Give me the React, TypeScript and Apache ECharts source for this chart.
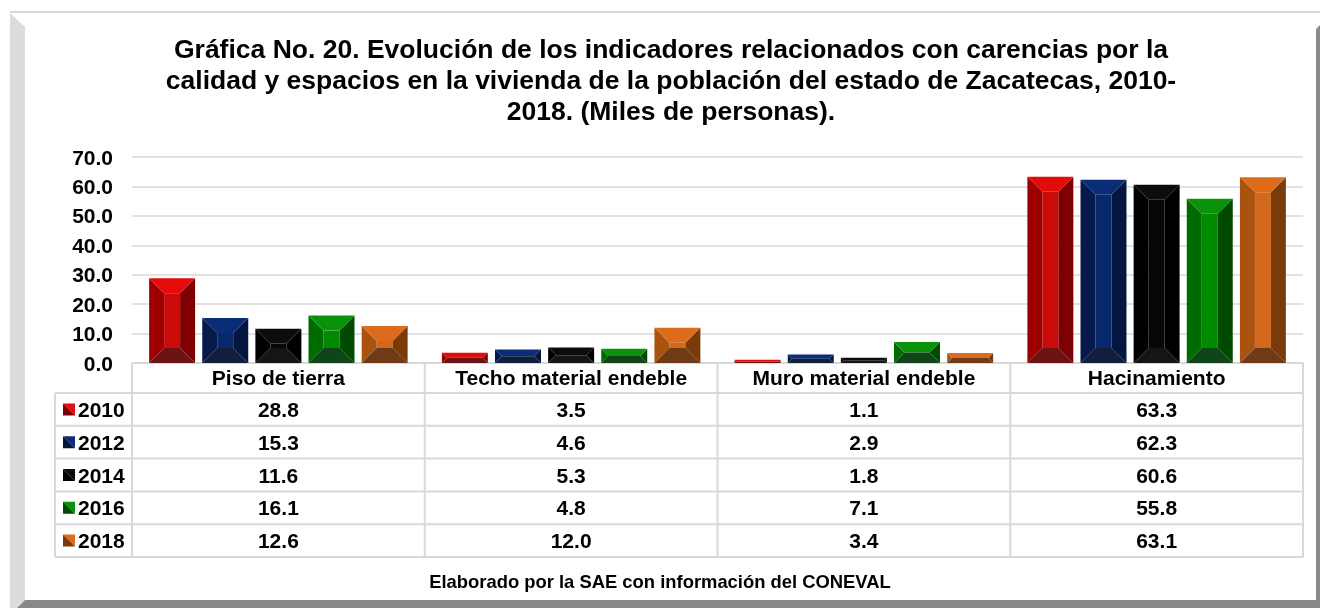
import React, { useEffect, useRef } from "react";
import * as echarts from "echarts";

// ---------- data ----------
const categories = ["Piso de tierra", "Techo material endeble", "Muro material endeble", "Hacinamiento"];
const years = ["2010", "2012", "2014", "2016", "2018"];
const v2010 = [28.8, 3.5, 1.1, 63.3];
const v2012 = [15.3, 4.6, 2.9, 62.3];
const v2014 = [11.6, 5.3, 1.8, 60.6];
const v2016 = [16.1, 4.8, 7.1, 55.8];
const v2018 = [12.6, 12.0, 3.4, 63.1];
const seriesValues = [v2010, v2012, v2014, v2016, v2018];
const yMin = 0;
const yMax = 70;
const yInterval = 10;
const titleLines = [
  "Gráfica No. 20. Evolución de los indicadores relacionados con carencias por la",
  "calidad y espacios en la vivienda de la población del estado de Zacatecas, 2010-",
  "2018. (Miles de personas).",
];
const footerText = "Elaborado por la SAE con información del CONEVAL";

// ---------- style ----------
const FONT = "'Liberation Sans', Arial, sans-serif";
const W = 1320;
const H = 608;
const GRID_LEFT = 132;
const GRID_RIGHT_X = 1303;
const GRID_TOP = 157;
const GRID_BOTTOM_Y = 363;
const HEADER_BOTTOM = 393;
const ROW_H = 32.8;
const LEGEND_LEFT = 55;
const LINE_COLOR = "#d9d9d9";

const palette = [
  { top: "#e40b0b", left: "#9c0000", center: "#cc0a0a", right: "#7e0000", bottom: "#6c1313" },
  { top: "#0b2c78", left: "#04194c", center: "#07296b", right: "#021640", bottom: "#111e3c" },
  { top: "#0c0c0c", left: "#000000", center: "#070707", right: "#000000", bottom: "#151515" },
  { top: "#0a930a", left: "#006c00", center: "#008a00", right: "#004b00", bottom: "#10451a" },
  { top: "#dc6b1b", left: "#aa530f", center: "#d3671a", right: "#7a3b0a", bottom: "#6e3b16" },
];

const BAR_RATIO = 0.157;
const GAP_RATIO = 0.0245;

function renderBar(params: any, api: any) {
  const idx = params.seriesIndex;
  const cat = api.value(0);
  const val = api.value(1);
  const base = api.coord([cat, 0]);
  const top = api.coord([cat, val]);
  const bandW = api.size([1, 0])[0];
  const barW = bandW * BAR_RATIO;
  const gap = bandW * GAP_RATIO;
  const groupW = years.length * barW + (years.length - 1) * gap;
  const x0 = base[0] - groupW / 2 + idx * (barW + gap);
  const x1 = x0 + barW;
  const yT = top[1];
  const yB = base[1];
  const h = yB - yT;
  const b = Math.min(15, h / 2, barW / 2);
  const c = palette[idx];
  const children: any[] = [];
  if (h - 2 * b > 0.01) {
    children.push({
      type: "rect",
      shape: { x: x0 + b, y: yT + b, width: barW - 2 * b, height: h - 2 * b },
      style: { fill: c.center },
    });
  }
  children.push({
    type: "polygon",
    shape: { points: [[x0, yT], [x0 + b, yT + b], [x0 + b, yB - b], [x0, yB]] },
    style: { fill: c.left },
  });
  children.push({
    type: "polygon",
    shape: { points: [[x1, yT], [x1 - b, yT + b], [x1 - b, yB - b], [x1, yB]] },
    style: { fill: c.right },
  });
  children.push({
    type: "polygon",
    shape: { points: [[x0, yT], [x1, yT], [x1 - b, yT + b], [x0 + b, yT + b]] },
    style: { fill: c.top },
  });
  children.push({
    type: "polygon",
    shape: { points: [[x0, yB], [x1, yB], [x1 - b, yB - b], [x0 + b, yB - b]] },
    style: { fill: c.bottom },
  });
  return { type: "group", children };
}

function buildGraphic() {
  const g: any[] = [];
  // frame
  g.push({ type: "rect", shape: { x: 10, y: 12, width: 1310, height: 596 }, style: { fill: "#ffffff" }, z: -10 });
  g.push({ type: "line", shape: { x1: 10, y1: 12, x2: 1320, y2: 12 }, style: { stroke: "#d9d9d9", lineWidth: 2 }, z: -9 });
  g.push({
    type: "polygon",
    shape: { points: [[10, 13], [25, 27], [25, 600], [17, 608], [10, 608]] },
    style: { fill: "#dcdcdc" },
    z: -9,
  });
  g.push({
    type: "polygon",
    shape: { points: [[17, 608], [25, 600], [1316, 600], [1320, 596], [1320, 608]] },
    style: { fill: "#888888" },
    z: -9,
  });
  g.push({
    type: "polygon",
    shape: { points: [[1316, 29], [1320, 25], [1320, 608], [1316, 600]] },
    style: { fill: "#8a8a8a" },
    z: -9,
  });

  // title
  g.push({
    type: "text",
    x: 671,
    y: 33,
    style: {
      text: titleLines.join("\n"),
      font: `bold 26.5px ${FONT}`,
      fill: "#000000",
      align: "center",
      verticalAlign: "top",
      lineHeight: 31,
    },
    z: 5,
  });

  // footer
  g.push({
    type: "text",
    x: 660,
    y: 581,
    style: {
      text: footerText,
      font: `bold 18.4px ${FONT}`,
      fill: "#000000",
      align: "center",
      verticalAlign: "middle",
    },
    z: 5,
  });

  // table lines
  const bandW = (GRID_RIGHT_X - GRID_LEFT) / categories.length;
  const tableBottom = HEADER_BOTTOM + ROW_H * years.length;
  const lineStyle = { stroke: LINE_COLOR, lineWidth: 2 };
  g.push({ type: "line", shape: { x1: GRID_LEFT, y1: GRID_BOTTOM_Y, x2: GRID_RIGHT_X, y2: GRID_BOTTOM_Y }, style: lineStyle, z: 1 });
  for (let r = 0; r <= years.length; r++) {
    const y = HEADER_BOTTOM + r * ROW_H;
    g.push({ type: "line", shape: { x1: LEGEND_LEFT, y1: y, x2: GRID_RIGHT_X, y2: y }, style: lineStyle, z: 1 });
  }
  g.push({ type: "line", shape: { x1: LEGEND_LEFT, y1: HEADER_BOTTOM, x2: LEGEND_LEFT, y2: tableBottom }, style: lineStyle, z: 1 });
  for (let c = 0; c <= categories.length; c++) {
    const x = GRID_LEFT + c * bandW;
    g.push({ type: "line", shape: { x1: x, y1: GRID_BOTTOM_Y, x2: x, y2: tableBottom }, style: lineStyle, z: 1 });
  }

  // rows
  years.forEach((yr, r) => {
    const cy = HEADER_BOTTOM + (r + 0.5) * ROW_H;
    const c = palette[r];
    const kx = 63;
    const ks = 12;
    const ky = cy - ks / 2;
    g.push({
      type: "polygon",
      shape: { points: [[kx, ky], [kx + ks, ky], [kx + ks, ky + ks]] },
      style: { fill: c.top },
      z: 3,
    });
    g.push({
      type: "polygon",
      shape: { points: [[kx, ky], [kx + ks, ky + ks], [kx, ky + ks]] },
      style: { fill: c.right },
      z: 3,
    });
    g.push({
      type: "text",
      x: 78,
      y: cy,
      style: { text: yr, font: `bold 21px ${FONT}`, fill: "#000", align: "left", verticalAlign: "middle" },
      z: 3,
    });
    seriesValues[r].forEach((v, ci) => {
      g.push({
        type: "text",
        x: GRID_LEFT + (ci + 0.5) * bandW,
        y: cy,
        style: { text: v.toFixed(1), font: `bold 21px ${FONT}`, fill: "#000", align: "center", verticalAlign: "middle" },
        z: 3,
      });
    });
  });
  return g;
}

export default function App() {
  const ref = useRef<HTMLDivElement>(null);
  useEffect(() => {
    if (!ref.current) return;
    const chart = echarts.init(ref.current, undefined, { renderer: "svg" });
    chart.setOption({
      animation: false,
      backgroundColor: "transparent",
      grid: {
        left: GRID_LEFT,
        top: GRID_TOP,
        width: GRID_RIGHT_X - GRID_LEFT,
        height: GRID_BOTTOM_Y - GRID_TOP,
        containLabel: false,
      },
      xAxis: {
        type: "category",
        data: categories,
        axisLine: { show: false },
        axisTick: { show: false },
        axisLabel: {
          interval: 0,
          margin: 4,
          color: "#000",
          fontFamily: FONT,
          fontWeight: "bold",
          fontSize: 21,
        },
        splitLine: { show: false },
      },
      yAxis: {
        type: "value",
        min: yMin,
        max: yMax,
        interval: yInterval,
        axisLine: { show: false },
        axisTick: { show: false },
        axisLabel: {
          margin: 19,
          color: "#000",
          fontFamily: FONT,
          fontWeight: "bold",
          fontSize: 21,
          formatter: (v: number) => v.toFixed(1),
        },
        splitLine: { lineStyle: { color: LINE_COLOR, width: 1.5 } },
      },
      series: years.map((yr, i) => ({
        type: "custom",
        name: yr,
        renderItem: renderBar,
        encode: { x: 0, y: 1 },
        data: seriesValues[i].map((v, ci) => [ci, v]),
        z: 4,
        silent: true,
      })),
      graphic: buildGraphic(),
    });
    return () => chart.dispose();
  }, []);
  return <div ref={ref} style={{ position: "fixed", left: 0, top: 0, width: W, height: H }} />;
}
